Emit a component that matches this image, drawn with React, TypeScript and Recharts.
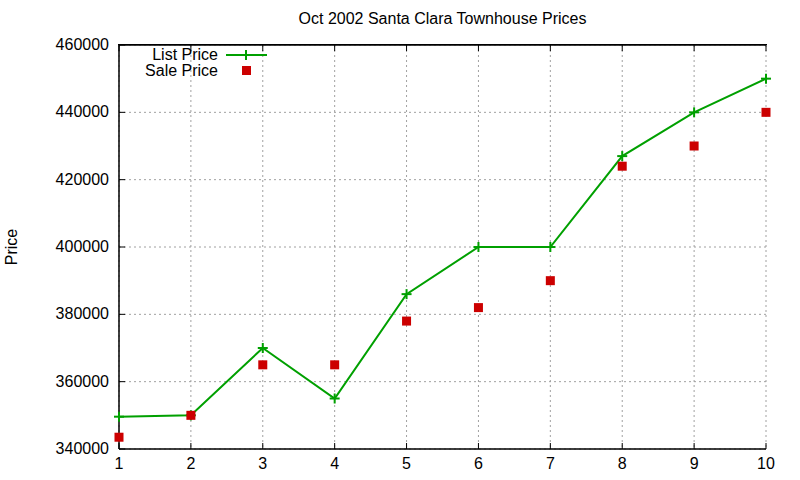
import React from "react"
import { ComposedChart, Line, XAxis, YAxis, CartesianGrid } from "recharts"

const months = [1, 2, 3, 4, 5, 6, 7, 8, 9, 10]
const listPrice = [349600, 350000, 370000, 355000, 386000, 400000, 400000, 427000, 440000, 450000]
const salePrice = [343500, 350000, 365000, 365000, 378000, 382000, 390000, 424000, 430000, 440000]
const yTicks = [340000, 360000, 380000, 400000, 420000, 440000, 460000]

const GREEN = "#00a000"
const RED = "#cc0000"
const FONT = "'Liberation Sans', Arial, sans-serif"

const data = months.map((m, i) => ({ x: m, list: listPrice[i], sale: salePrice[i] }))

const PlusDot = (props: any) => {
  const { cx, cy } = props
  if (cx == null || cy == null) return null
  return (
    <g>
      <line x1={cx - 5} x2={cx + 5} y1={cy} y2={cy} stroke={GREEN} strokeWidth={2} />
      <line x1={cx} x2={cx} y1={cy - 5} y2={cy + 5} stroke={GREEN} strokeWidth={2} />
    </g>
  )
}

const SquareDot = (props: any) => {
  const { cx, cy } = props
  if (cx == null || cy == null) return null
  return <rect x={cx - 4.5} y={cy - 4.5} width={9} height={9} fill={RED} />
}

// ticks drawn inward, gnuplot style
const LeftTick = (props: any) => {
  const { x, y, payload } = props
  const ax = x + 10
  return (
    <g>
      <line x1={ax} x2={ax + 6} y1={y} y2={y} stroke="#000" />
      <text x={x} y={y} dy={5} textAnchor="end" fontSize={16} fontFamily={FONT} fill="#000">
        {payload.value}
      </text>
    </g>
  )
}

const RightTick = (props: any) => {
  const { x, y } = props
  return <line x1={x} x2={x - 6} y1={y} y2={y} stroke="#000" />
}

const BottomTick = (props: any) => {
  const { x, y, payload } = props
  const ay = y - 6
  return (
    <g>
      <line x1={x} x2={x} y1={ay} y2={ay - 6} stroke="#000" />
      <text x={x} y={y} dy={14} textAnchor="middle" fontSize={16} fontFamily={FONT} fill="#000">
        {payload.value}
      </text>
    </g>
  )
}

const TopTick = (props: any) => {
  const { x, y } = props
  return <line x1={x} x2={x} y1={y} y2={y + 6} stroke="#000" />
}

const LegendBox = () => (
  <div style={{ fontFamily: FONT, fontSize: 16, color: "#000", lineHeight: "16px" }}>
    <div style={{ display: "flex", alignItems: "center", height: 15 }}>
      <span style={{ width: 88, textAlign: "right" }}>List Price</span>
      <svg width={50} height={15} style={{ marginLeft: 6 }}>
        <line x1={2} x2={43} y1={8} y2={8} stroke={GREEN} strokeWidth={2} />
        <line x1={22} x2={22} y1={3} y2={13} stroke={GREEN} strokeWidth={2} />
      </svg>
    </div>
    <div style={{ display: "flex", alignItems: "center", height: 15, marginTop: 1 }}>
      <span style={{ width: 88, textAlign: "right" }}>Sale Price</span>
      <svg width={50} height={15} style={{ marginLeft: 6 }}>
        <rect x={18} y={3} width={9} height={9} fill={RED} />
      </svg>
    </div>
  </div>
)

export default function App() {
  return (
    <div style={{ position: "absolute", left: 0, top: 0, width: 800, height: 480, background: "#fff" }}>
      <div
        style={{
          position: "absolute",
          top: 10,
          left: 119,
          width: 647,
          textAlign: "center",
          fontFamily: FONT,
          fontSize: 16,
        }}
      >
        Oct 2002 Santa Clara Townhouse Prices
      </div>
      <div
        style={{
          position: "absolute",
          left: 12,
          top: 247,
          transform: "translate(-50%, -50%) rotate(-90deg)",
          fontFamily: FONT,
          fontSize: 16,
        }}
      >
        Price
      </div>
      <ComposedChart width={800} height={480} data={data} margin={{ top: 44, right: 34, bottom: 0, left: 0 }}>
        <CartesianGrid stroke="#a0a0a0" strokeDasharray="2 3" xAxisId="b" yAxisId="l" />
        <XAxis
          xAxisId="b"
          dataKey="x"
          type="number"
          domain={[1, 10]}
          ticks={months}
          height={31}
          axisLine={{ stroke: "#000", strokeWidth: 1.5 }}
          tickLine={false}
          tickSize={0}
          tickMargin={6}
          tick={<BottomTick />}
        />
        <XAxis
          xAxisId="t"
          orientation="top"
          dataKey="x"
          type="number"
          domain={[1, 10]}
          ticks={months}
          height={1}
          axisLine={{ stroke: "#000", strokeWidth: 1.5 }}
          tickLine={false}
          tickSize={0}
          tickMargin={0}
          tick={<TopTick />}
        />
        <YAxis
          yAxisId="l"
          type="number"
          domain={[340000, 460000]}
          ticks={yTicks}
          width={119}
          axisLine={{ stroke: "#000", strokeWidth: 1.5 }}
          tickLine={false}
          tickSize={0}
          tickMargin={10}
          tick={<LeftTick />}
        />
        <YAxis
          yAxisId="r"
          orientation="right"
          type="number"
          domain={[340000, 460000]}
          ticks={yTicks}
          width={0}
          axisLine={{ stroke: "#000", strokeWidth: 1.5 }}
          tickLine={false}
          tickSize={0}
          tickMargin={0}
          tick={<RightTick />}
        />
        <Line
          xAxisId="b"
          yAxisId="l"
          dataKey="list"
          name="List Price"
          stroke={GREEN}
          strokeWidth={2}
          type="linear"
          dot={<PlusDot />}
          activeDot={false}
          isAnimationActive={false}
        />
        <Line
          xAxisId="b"
          yAxisId="l"
          dataKey="sale"
          name="Sale Price"
          stroke="none"
          dot={<SquareDot />}
          activeDot={false}
          isAnimationActive={false}
        />
      </ComposedChart>
      {/* top frame edge */}
      <div
        style={{
          position: "absolute",
          top: 44,
          left: 118,
          width: 649,
          height: 0,
          borderTop: "1.5px solid #000",
        }}
      />
      <div style={{ position: "absolute", top: 47, left: 130 }}>
        <LegendBox />
      </div>
    </div>
  )
}
